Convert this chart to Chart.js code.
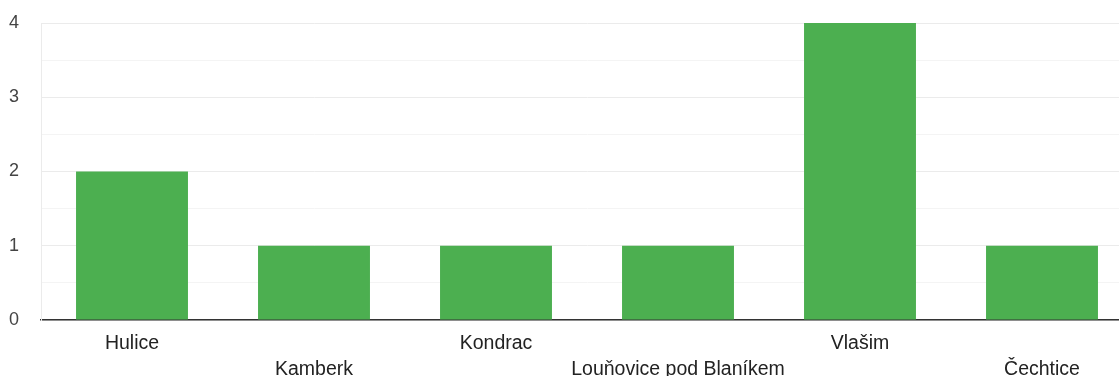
<!DOCTYPE html>
<html>
<head>
<meta charset="utf-8">
<script src="https://cdn.jsdelivr.net/npm/chart.js@4/dist/chart.umd.min.js"></script>
<style>
  html, body { margin: 0; padding: 0; background: #fff; overflow: hidden; }
  #wrap { width: 1119px; height: 376px; overflow: hidden; }
</style>
</head>
<body>
<div id="wrap"><canvas id="graf" width="1133" height="376"></canvas></div>
<script>
var obce = ['Hulice', 'Kamberk', 'Kondrac', 'Louňovice pod Blaníkem', 'Vlašim', 'Čechtice'];
var pocty = [2, 1, 1, 1, 4, 1];
var yTicks = [0, 1, 2, 3, 4];

// canvas is a bit wider than the window, the last category is cut off like in the original
var ctx = document.getElementById('graf').getContext('2d');
var graf = new Chart(ctx, {
  type: 'bar',
  data: {
    labels: obce,
    datasets: [{
      data: pocty,
      backgroundColor: '#4caf50',
      borderWidth: 0,
      barPercentage: 0.615,
      categoryPercentage: 1
    }]
  },
  options: {
    responsive: false,
    animation: false,
    layout: { padding: { top: 23, right: 0, left: 0, bottom: 0 } },
    plugins: { legend: { display: false }, tooltip: { enabled: false } },
    scales: {
      x: {
        grid: { display: false, drawTicks: false },
        border: { color: '#333', width: 1.5 },
        ticks: {
          autoSkip: false,
          maxRotation: 0,
          padding: 11,
          color: '#222',
          font: { family: '"Liberation Sans", Arial, sans-serif', size: 19.5, lineHeight: 1.33 },
          callback: function(v, i) {
            // every second label drops to the next row
            return i % 2 ? ['', obce[i]] : [obce[i], ''];
          }
        },
        afterFit: function(s) { s.height = 56; }
      },
      y: {
        min: yTicks[0],
        max: yTicks[yTicks.length - 1],
        grid: {
          drawTicks: false,
          color: function(c) {
            if (c.tick.value % 1 !== 0) return '#f4f4f4';
            return '#ebebeb';
          }
        },
        border: { color: '#ebebeb' },
        ticks: {
          stepSize: 0.5,
          padding: 22,
          color: '#444',
          font: { family: '"Liberation Sans", Arial, sans-serif', size: 18 },
          callback: function(v) {
            return yTicks.indexOf(v) >= 0 ? v : '';
          }
        },
        afterFit: function(s) {
          s.width = 41;
          s.paddingTop = 0;
          s.paddingBottom = 0;
        }
      }
    }
  }
});
</script>
</body>
</html>
